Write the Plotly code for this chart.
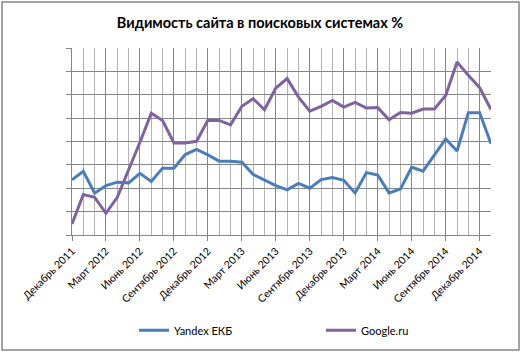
import plotly.graph_objects as go

months = [
    "Декабрь 2011", "Январь 2012", "Февраль 2012", "Март 2012", "Апрель 2012", "Май 2012",
    "Июнь 2012", "Июль 2012", "Август 2012", "Сентябрь 2012", "Октябрь 2012", "Ноябрь 2012",
    "Декабрь 2012", "Январь 2013", "Февраль 2013", "Март 2013", "Апрель 2013", "Май 2013",
    "Июнь 2013", "Июль 2013", "Август 2013", "Сентябрь 2013", "Октябрь 2013", "Ноябрь 2013",
    "Декабрь 2013", "Январь 2014", "Февраль 2014", "Март 2014", "Апрель 2014", "Май 2014",
    "Июнь 2014", "Июль 2014", "Август 2014", "Сентябрь 2014", "Октябрь 2014", "Ноябрь 2014",
    "Декабрь 2014", "Январь 2015",
]

yandex = [2.36, 2.73, 1.79, 2.11, 2.26, 2.23, 2.64, 2.29, 2.86, 2.86,
          3.44, 3.66, 3.43, 3.16, 3.16, 3.11, 2.59, 2.36, 2.11, 1.93,
          2.21, 2.0, 2.37, 2.46, 2.34, 1.8, 2.67, 2.56, 1.8, 1.97,
          2.9, 2.73, 3.43, 4.11, 3.59, 5.23, 5.23, 3.9]

google = [0.47, 1.73, 1.61, 0.93, 1.61, 2.76, 3.97, 5.21, 4.9, 3.94,
          3.94, 4.01, 4.91, 4.9, 4.71, 5.51, 5.83, 5.36, 6.29, 6.69,
          5.9, 5.3, 5.5, 5.76, 5.47, 5.67, 5.43, 5.45, 4.93, 5.24,
          5.21, 5.39, 5.39, 5.97, 7.4, 6.83, 6.3, 5.37]

x = list(range(len(months)))
tick_idx = x[::3][:13]
tick_text = [months[i] for i in tick_idx]

fig = go.Figure()
fig.add_trace(go.Scatter(x=x, y=yandex, mode="lines", name="Yandex ЕКБ",
                         line=dict(color="#4A7EBB", width=3)))
fig.add_trace(go.Scatter(x=x, y=google, mode="lines", name="Google.ru",
                         line=dict(color="#7F62A0", width=3)))

fig.update_layout(
    width=520, height=353,
    margin=dict(l=72, r=29, t=48, b=118, autoexpand=False),
    paper_bgcolor="white", plot_bgcolor="white",
    font=dict(family="Lato, Open Sans, sans-serif", size=12, color="#000000"),
    title=dict(text="<b>Видимость сайта в поисковых системах %</b>",
               x=0.5, xanchor="center", xref="container",
               y=1 - 23 / 353, yref="container", yanchor="middle",
               font=dict(family="Lato, Open Sans, sans-serif", size=14.5, color="#000000")),
    showlegend=True,
    legend=dict(orientation="h", x=(134 - 72) / 419, xanchor="left", y=-0.51, yanchor="middle",
                entrywidth=142, entrywidthmode="pixels", itemwidth=30,
                font=dict(size=11, color="#000000"), bgcolor="rgba(0,0,0,0)"),
)

fig.update_xaxes(
    range=[0, len(months) - 1], automargin=False,
    tickmode="array", tickvals=tick_idx, ticktext=tick_text,
    tickangle=-45, ticks="outside", ticklen=5, tickcolor="#868686",
    showgrid=True, gridcolor="#868686", gridwidth=1,
    minor=dict(dtick=1, tick0=0, showgrid=True, gridcolor="#B4B4B4", gridwidth=1, ticks=""),
    showline=True, linecolor="#868686", linewidth=1,
    zeroline=False, fixedrange=True,
    tickfont=dict(size=10.5, color="#000000"),
)
fig.update_yaxes(
    range=[0, 8], dtick=1, tick0=0, automargin=False,
    showticklabels=False, ticks="outside", ticklen=5, tickcolor="#868686",
    showgrid=True, gridcolor="#868686", gridwidth=1,
    showline=True, linecolor="#868686", linewidth=1, mirror=False,
    zeroline=False, fixedrange=True,
)

fig.add_shape(type="rect", xref="paper", yref="paper",
              x0=(2 - 72) / 419, x1=(519 - 72) / 419,
              y0=(235 - 350) / 187, y1=(235 - 2) / 187,
              line=dict(color="#868686", width=1.5), fillcolor="rgba(0,0,0,0)", layer="below")

fig.write_html("out.html")
